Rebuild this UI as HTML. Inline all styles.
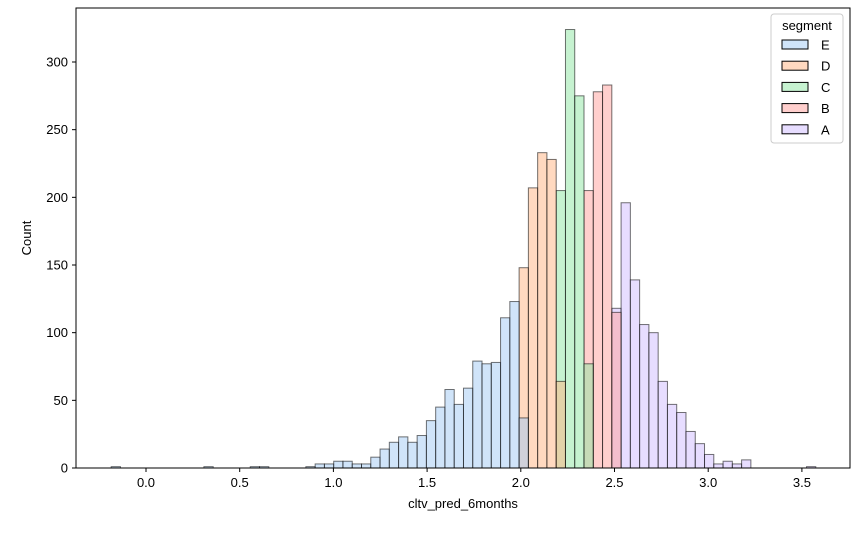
<!DOCTYPE html>
<html><head><meta charset="utf-8"><style>
body{margin:0;background:#fff;}
svg text{font-family:"Liberation Sans","DejaVu Sans",sans-serif;font-size:13px;fill:#000;}
</style></head><body>
<svg id="chart" width="861" height="535" viewBox="0 0 861 535" xmlns="http://www.w3.org/2000/svg">
<g id="bars"></g>
<rect x="76" y="8" width="774" height="460" fill="none" stroke="#000" stroke-width="1"/>
<g id="axes"></g>
<text x="463" y="508" text-anchor="middle">cltv_pred_6months</text>
<text transform="translate(31,238) rotate(-90)" text-anchor="middle">Count</text>
<g id="legend">
<rect x="771" y="14" width="72" height="129" rx="3" fill="#fff" stroke="#ccc"/>
<text x="807" y="30" text-anchor="middle">segment</text>
</g>
</svg>
<script>
const segments = ["E","D","C","B","A"];
const fills = {E:"#a1c9f4",D:"#ffb482",C:"#8de5a1",B:"#ff9f9b",A:"#d0bbff"};
const binStart = -0.1857;
const binWidth = 0.04947;
const startE = 21;
const countsE = [1,3,3,5,5,3,3,8,14,19,23,19,24,35,45,58,47,59,79,77,78,111,123,37];
const startD = 44;
const countsD = [148,207,233,228,64];
const startC = 48;
const countsC = [205,324,275,77];
const startB = 51;
const countsB = [205,278,283,115];
const startA = 54;
const countsA = [118,196,139,106,100,64,47,41,27,18,10,3,5,3,6,0,0,0,0,0,0,1];
const extraE = [[0,1],[10,1],[15,1],[16,1]];
const yTicks = [0,50,100,150,200,250,300];
const xTicks = [0.0,0.5,1.0,1.5,2.0,2.5,3.0,3.5];

const X0 = 146, XS = 187.4, Y0 = 468, YS = 406/300;
const xs = v => X0 + v*XS;
const ys = c => Y0 - c*YS;
const NS = "http://www.w3.org/2000/svg";
const bars = document.getElementById("bars");
function bar(seg, idx, c){
  if(!c) return;
  const r = document.createElementNS(NS,"rect");
  const x1 = xs(binStart + idx*binWidth), x2 = xs(binStart + (idx+1)*binWidth);
  r.setAttribute("x", x1); r.setAttribute("width", x2-x1);
  r.setAttribute("y", ys(c)); r.setAttribute("height", Y0-ys(c));
  r.setAttribute("fill", fills[seg]); r.setAttribute("fill-opacity","0.5");
  r.setAttribute("stroke","#000"); r.setAttribute("stroke-opacity","0.55"); r.setAttribute("stroke-width","1");
  
  
  bars.appendChild(r);
}
const series = {E:[startE,countsE],D:[startD,countsD],C:[startC,countsC],B:[startB,countsB],A:[startA,countsA]};
["A","B","C","D","E"].forEach(s=>{
  const [st, arr] = series[s];
  arr.forEach((c,i)=>bar(s, st+i, c));
});
extraE.forEach(([i,c])=>bar("E", i, c));

const axes = document.getElementById("axes");
yTicks.forEach(t=>{
  const y = ys(t);
  const l = document.createElementNS(NS,"line");
  l.setAttribute("x1",72);l.setAttribute("x2",76);l.setAttribute("y1",y);l.setAttribute("y2",y);l.setAttribute("stroke","#000");
  
  
  axes.appendChild(l);
  const tx = document.createElementNS(NS,"text");
  tx.setAttribute("x",68);tx.setAttribute("y",y+4.5);tx.setAttribute("text-anchor","end");tx.textContent=t;
  
  
  axes.appendChild(tx);
});
xTicks.forEach(t=>{
  const x = xs(t);
  const l = document.createElementNS(NS,"line");
  l.setAttribute("x1",x);l.setAttribute("x2",x);l.setAttribute("y1",468);l.setAttribute("y2",472);l.setAttribute("stroke","#000");
  
  
  axes.appendChild(l);
  const tx = document.createElementNS(NS,"text");
  tx.setAttribute("x",x);tx.setAttribute("y",487);tx.setAttribute("text-anchor","middle");tx.textContent=t.toFixed(1);
  
  
  axes.appendChild(tx);
});
const legend = document.getElementById("legend");
segments.forEach((s,i)=>{
  const y = 45 + i*21.2;
  const r = document.createElementNS(NS,"rect");
  r.setAttribute("x",782);r.setAttribute("y",y-5);r.setAttribute("width",26);r.setAttribute("height",9);
  r.setAttribute("fill",fills[s]);r.setAttribute("fill-opacity","0.5");r.setAttribute("stroke","#000");
  
  
  legend.appendChild(r);
  const tx = document.createElementNS(NS,"text");
  tx.setAttribute("x",821);tx.setAttribute("y",y+4.5);tx.textContent=s;
  
  
  legend.appendChild(tx);
});
</script>
</body></html>
